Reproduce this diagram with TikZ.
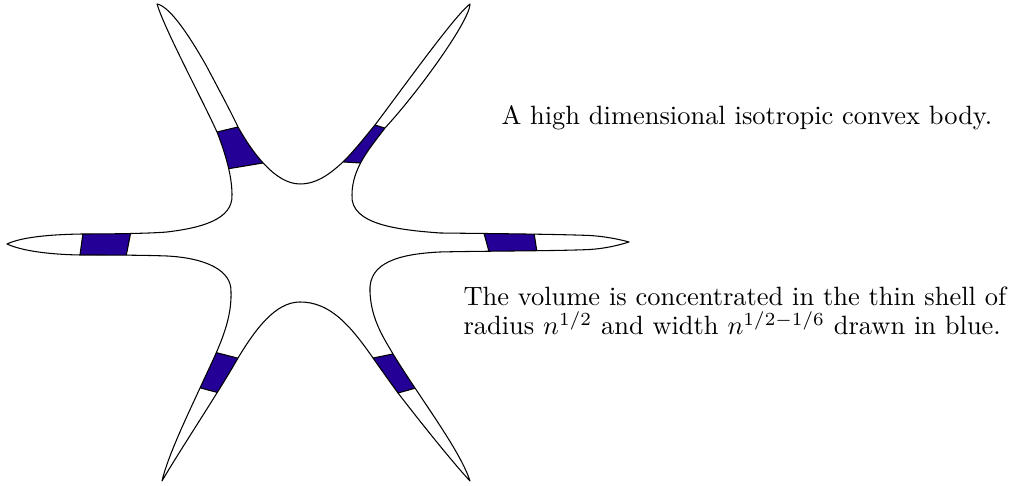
\documentclass[tikz,border=0pt]{standalone}
\usepackage{tikz}
\definecolor{bandblue}{RGB}{36,0,150}
\begin{document}
\begin{tikzpicture}[x=0.378pt,y=-0.378pt,
  bodyline/.style={draw=black,line width=0.4pt,line join=round},
  caption/.style={inner sep=0pt,font=\fontsize{10}{11.2}\selectfont}]
\useasboundingbox (0,0) rectangle (1010,486);
\def\bodypath{(7,244)
 .. controls (22,237) and (50,234.5) .. (83,234)
 .. controls (110,234) and (150,233.5) .. (167,232)
 .. controls (200,228) and (233,220) .. (232,195)
 .. controls (232,180) and (228,160) .. (217,132)
 .. controls (200,95) and (165,30) .. (157,4)
 .. controls (168,6) and (185,28) .. (207,67)
 .. controls (218,88) and (230,110) .. (238,127)
 .. controls (252,152) and (275,184) .. (300,184)
 .. controls (318,184) and (332,172) .. (343,162)
 .. controls (355,150) and (365,137) .. (375,125)
 .. controls (400,92) and (455,15) .. (470,4)
 .. controls (470,20) and (420,90) .. (385,128)
 .. controls (370,148) and (352,168) .. (352,195)
 .. controls (350,225) and (400,230) .. (440,233)
 .. controls (480,233.5) and (550,234) .. (590,235.5)
 .. controls (605,236.5) and (618,239) .. (629,242)
 .. controls (618,245.5) and (605,248.5) .. (590,249.5)
 .. controls (560,251) and (480,251) .. (440,252)
 .. controls (400,254) and (368,262) .. (370,292)
 .. controls (371,320) and (385,340) .. (393,354)
 .. controls (420,398) and (460,450) .. (470,481)
 .. controls (455,465) and (425,428) .. (398,393)
 .. controls (390,382) and (380,368) .. (373,358)
 .. controls (350,325) and (330,302) .. (300,302)
 .. controls (275,302) and (255,330) .. (238,358)
 .. controls (220,390) and (180,450) .. (162,481)
 .. controls (168,455) and (190,410) .. (200,388)
 .. controls (215,355) and (232,325) .. (231,292)
 .. controls (232,270) and (205,258) .. (167,256)
 .. controls (140,255) and (100,255) .. (80,255)
 .. controls (50,254.5) and (22,251) .. (7,244) -- cycle}
\begin{scope}
  \clip \bodypath;
  % upper left band
  \fill[bandblue] (210,133.7) -- (245,125.3) -- (269,162) -- (222,169.8) -- cycle;
  \draw (210,133.7) -- (245,125.3);
  \draw (222,169.8) -- (269,162);
  % upper right band
  \fill[bandblue] (370,123.5) -- (391,130) -- (368,163.5) -- (336,161.5) -- cycle;
  \draw (370,123.5) -- (391,130);
  \draw (336,161.5) -- (368,163.5);
  % left band
  \fill[bandblue] (84,226) -- (132,226) -- (125,262) -- (79,262) -- cycle;
  \draw (84,226) -- (79,262);
  \draw (132,226) -- (125,262);
  % right band
  \fill[bandblue] (482,226) -- (533,226) -- (538,259) -- (491,259) -- cycle;
  \draw (482,226) -- (491,259);
  \draw (533,226) -- (538,259);
  % lower left band
  \fill[bandblue] (210,351) -- (245,360) -- (227,395) -- (193,386) -- cycle;
  \draw (210,351) -- (245,360);
  \draw (193,386) -- (227,395);
  % lower right band
  \fill[bandblue] (366,359.5) -- (400,352.5) -- (423,386) -- (391,395) -- cycle;
  \draw (366,359.5) -- (400,352.5);
  \draw (391,395) -- (423,386);
\end{scope}
\draw[bodyline] \bodypath;
\node[caption,anchor=base west] (t1) at (501,125) {A high dimensional isotropic convex body.};
\node[caption,anchor=base west,align=left] (t2) at (463,335) {The volume is concentrated in the thin shell of\\radius $n^{1/2}$ and width $n^{1/2-1/6}$ drawn in blue.};
\end{tikzpicture}
\end{document}
